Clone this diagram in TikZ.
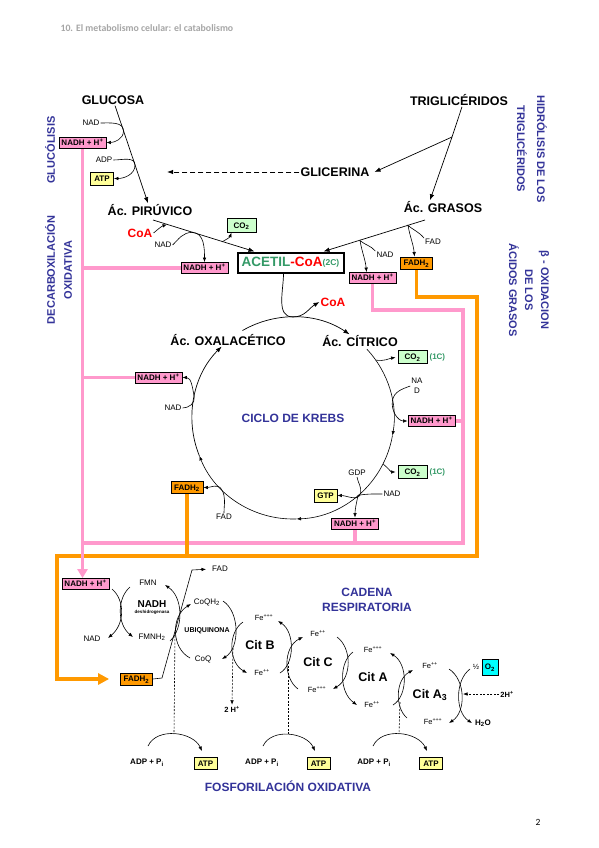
\documentclass[tikz,border=0pt]{standalone}
\usepackage{fontspec}
\setmainfont{Liberation Sans}
\newfontfamily\calibri{Carlito}
\usetikzlibrary{arrows.meta,positioning,calc,backgrounds}
\definecolor{rosa}{HTML}{FF99CC}
\definecolor{naranja}{HTML}{FF9900}
\definecolor{amarillo}{HTML}{FFFF99}
\definecolor{verdeclaro}{HTML}{CCFFCC}
\definecolor{verde}{HTML}{339966}
\definecolor{azul}{HTML}{333399}
\definecolor{celeste}{HTML}{00FFFF}
\definecolor{rojo}{HTML}{FF0000}
\definecolor{gris}{HTML}{A6A6A6}
\newcommand{\fsz}[1]{\fontsize{#1}{#1}\selectfont}

\begin{document}
\begin{tikzpicture}[
        x=1pt, y=1pt,
        metab/.style={font=\bfseries\fsz{12.5}, inner sep=1pt},
        lbl/.style={font=\fsz{8}, inner sep=1pt},
        fe/.style={font=\fsz{7.5}, inner sep=1pt},
        cit/.style={font=\bfseries\fsz{12.5}, inner sep=1pt},
        caja/.style={draw, line width=0.8pt, inner xsep=2pt, inner ysep=1.5pt,
                     minimum height=11pt, font=\bfseries\fsz{8},
                     text height=6pt, text depth=0.5pt},
        nadh/.style={caja, fill=rosa, minimum width=47pt},
        fadh/.style={caja, fill=naranja, minimum width=32pt, minimum height=12pt},
        atp/.style={caja, fill=amarillo, minimum width=23pt, minimum height=13pt},
        co2/.style={caja, fill=verdeclaro, minimum width=29pt, minimum height=13.5pt},
        unoc/.style={font=\bfseries\fsz{8}, text=verde, inner sep=1pt},
        titulo/.style={font=\bfseries\fsz{12}, text=azul, align=center},
        lado/.style={font=\bfseries\fsz{11}, text=azul, align=center},
        rx/.style={-{Latex[length=4.5pt,width=3.5pt]}, line width=0.6pt},
        flecha/.style={-{Latex[length=6pt,width=4.5pt]}, line width=0.7pt},
        rosaline/.style={rosa, line width=3.5pt},
        naranjaline/.style={naranja, line width=3.5pt},
        punteada/.style={dash pattern=on 2pt off 1.5pt, line width=0.6pt}
    ]
        \useasboundingbox (0,0) rectangle (599,-848);

        % header and page number
        \node[anchor=west, font=\calibri\bfseries\fsz{9.8}, text=gris] (encabezado) at (57,-28)
            {10. El metabolismo celular: el catabolismo};
        \node[font=\calibri\fsz{9.5}] (pagina) at (538,-822) {2};

        % starting compounds
        \node[metab] (glucosa) at (113,-100) {GLUCOSA};
        \node[metab] (triglic) at (459,-100) {TRIGLICÉRIDOS};
        \node[metab] (glicerina) at (335,-172) {GLICERINA};
        \node[metab] (piruvico) at (150,-210) {Ác. PIRÚVICO};
        \node[metab] (grasos) at (443,-207) {Ác. GRASOS};

        % side titles
        \node[lado, rotate=90] (glucolisis) at (50,-150) {GLUCÓLISIS};
        \node[lado, rotate=90, font=\bfseries\fontsize{11}{17}\selectfont] (decarbox) at (58.5,-270)
            {DECARBOXILACIÓN\\OXIDATIVA};
        \node[lado, rotate=-90, font=\bfseries\fontsize{11}{20}\selectfont] (hidrolisis) at (532,-149)
            {HIDRÓLISIS DE LOS\\TRIGLICÉRIDOS};
        \node[lado, rotate=-90, font=\bfseries\fontsize{11}{16}\selectfont] (betaox) at (529,-290)
            {β - OXIDACION\\DE LOS\\ÁCIDOS GRASOS};

        % glycolysis
        \node[lbl] (nadGl) at (91,-123) {NAD};
        \node[nadh] (nadhGl) at (82.5,-142.5) {NADH + H\textsuperscript{+}};
        \node[lbl] (adpGl) at (104,-160) {ADP};
        \node[atp] (atpGl) at (102,-178.5) {ATP};
        \draw[flecha] ([xshift=2pt]glucosa.south) -- ([xshift=-2pt]piruvico.north);
        \draw[rx] (nadGl.east) to[out=0,in=90] (123.5,-131) to[out=-90,in=0] (nadhGl.east);
        \draw[rx] (adpGl.east) to[out=0,in=90] (135,-165) to[out=-90,in=0] (atpGl.east);

        % triglycerides
        \coordinate (ramaTg) at (452,-137);
        \coordinate (gliDest) at (167,-172);
        \draw[line width=0.7pt] ([xshift=3pt]triglic.south) -- (ramaTg);
        \draw[flecha] (ramaTg) -- ([xshift=4pt]glicerina.east);
        \draw[flecha] (ramaTg) -- ([xshift=-13pt]grasos.north);
        \draw[flecha, line width=1pt, dash pattern=on 5pt off 3pt] (glicerina.west) -- (gliDest);

        % oxidative decarboxylation
        \node[metab, text=rojo, font=\bfseries\fsz{12}] (coaPi) at (140,-233) {CoA};
        \node[lbl] (nadPi) at (163,-245) {NAD};
        \node[nadh] (nadhPi) at (204.5,-268) {NADH + H\textsuperscript{+}};
        \node[co2] (co2Pi) at (241.5,-225.5) {CO\textsubscript{2}};
        \node[draw, line width=2pt, minimum width=106pt, minimum height=20pt, inner sep=1pt,
              font=\bfseries\fsz{13.5}] (acetil) at (290.5,-262.5)
            {\textcolor{verde}{ACETIL}\textcolor{rojo}{-CoA}\raisebox{1pt}{\textcolor{verde}{\fsz{8.5}(2C)}}};
        \coordinate (piA) at (153,-220);
        \draw[flecha] (piA) -- ([xshift=18pt]acetil.north west);
        \draw[rx] (coaPi.east) to[out=40,in=200] (167,-224.4);
        \draw[rx] (nadPi.east) to[out=45,in=180] (192,-232.4) to[out=0,in=90] (nadhPi.north);
        \draw[rx] (222,-241.9) to[out=30,in=-110] ([xshift=-10pt]co2Pi.south);

        % beta oxidation
        \node[lbl] (nadGr) at (385,-255) {NAD};
        \node[nadh] (nadhGr) at (372.5,-278) {NADH + H\textsuperscript{+}};
        \node[lbl] (fadGr) at (433,-242) {FAD};
        \node[fadh] (fadhGr) at (416.5,-263) {FADH\textsubscript{2}};
        \coordinate (grA) at (425,-220);
        \draw[flecha] (grA) -- ([xshift=-21pt]acetil.north east);
        \draw[rx] (nadGr.north west) to[out=130,in=-40] (360,-240.6) to[out=-80,in=95] ([xshift=-6pt]nadhGr.north);
        \draw[rx] (fadGr.north west) to[out=130,in=-40] (408,-225.4) to[out=-80,in=95] ([xshift=-2pt]fadhGr.north);

        % Krebs cycle
        \coordinate (krebs) at (293,-418);
        \node[titulo] (ciclo) at (krebs) {CICLO DE KREBS};
        \node[metab] (oxal) at (228,-340) {Ác. OXALACÉTICO};
        \node[metab] (citrico) at (360,-341) {Ác. CÍTRICO};
        \node[metab, text=rojo, font=\bfseries\fsz{12}] (coaK) at (333,-302) {CoA};
        \draw[flecha] ($(krebs)+(120:101)$) arc[start angle=120, end angle=56, radius=101];
        \draw[rx] ($(krebs)+(43:101)$) arc[start angle=43, end angle=-10, radius=101];
        \draw[rx] ($(krebs)+(-10:101)$) arc[start angle=-10, end angle=-88, radius=101];
        \draw[rx] ($(krebs)+(-88:101)$) arc[start angle=-88, end angle=-158, radius=101];
        \draw[flecha] ($(krebs)+(-158:101)$) arc[start angle=-158, end angle=-225, radius=101];
        \draw[flecha] ([xshift=-7pt]acetil.south) to[out=-90,in=180] ($(krebs)+(90:101)$) to[out=0,in=210] (coaK.west);

        % Krebs, right side
        \node[co2] (co2K1) at (412.5,-357) {CO\textsubscript{2}};
        \node[unoc, right=1pt of co2K1] (unoC1) {(1C)};
        \node[lbl, align=center, font=\fontsize{8}{10}\selectfont] (nadK2) at (417,-386) {NA\\D};
        \node[nadh] (nadhK2) at (431.5,-421) {NADH + H\textsuperscript{+}};
        \node[co2] (co2K2) at (412.5,-472) {CO\textsubscript{2}};
        \node[unoc, right=1pt of co2K2] (unoC2) {(1C)};
        \node[lbl] (gdpK) at (357,-473) {GDP};
        \node[atp] (gtpK) at (325.5,-495.5) {GTP};
        \node[lbl] (nadK3) at (392,-494) {NAD};
        \node[nadh] (nadhK3) at (355,-523.5) {NADH + H\textsuperscript{+}};
        \draw[rx, shorten >=2pt] ($(krebs)+(35:101)$) to[out=-10,in=190] (co2K1.west);
        \draw[rx] (nadK2.west) to[out=200,in=80] ($(krebs)+(10:101)$) to[out=-100,in=180] (nadhK2.west);
        \draw[rx, shorten >=2pt] ($(krebs)+(-27:101)$) to[out=-40,in=180] (co2K2.west);
        \draw[rx] (gdpK.south) to[out=-80,in=80] ($(krebs)+(-48:101)$) to[out=-100,in=0] (gtpK.east);
        \draw[rx] (nadK3.west) to[out=180,in=10] ($(krebs)+(-50:101)$) to[out=-100,in=90] (nadhK3.north);

        % Krebs, left side
        \node[nadh] (nadhK1) at (158.5,-377.5) {NADH + H\textsuperscript{+}};
        \node[lbl] (nadK1) at (173,-408) {NAD};
        \node[fadh] (fadhK) at (187,-487.5) {FADH\textsubscript{2}};
        \node[lbl] (fadK) at (224,-517) {FAD};
        \draw[rx] (nadK1.east) to[out=0,in=-80] ($(krebs)+(168:101)$) to[out=100,in=0] (nadhK1.east);
        \draw[rx] (fadK.north) to[out=90,in=-60] ($(krebs)+(-135:101)$) to[out=120,in=0] (fadhK.east);

        % respiratory chain
        \node[titulo, font=\bfseries\fontsize{12}{15}\selectfont] (cadena) at (367,-600) {CADENA\\RESPIRATORIA};
        \node[nadh] (nadhC) at (85.5,-584) {NADH + H\textsuperscript{+}};
        \node[fadh] (fadhC) at (136.5,-679) {FADH\textsubscript{2}};
        \node[lbl] (fmn) at (148,-583) {FMN};
        \node[font=\bfseries\fsz{10}, inner sep=0pt] (nadhDes) at (152,-604) {NADH};
        \node[font=\bfseries\fsz{4.5}, inner sep=0pt, below=2pt of nadhDes] (deshid) {deshidrogenasa};
        \node[lbl] (nadC) at (92,-639) {NAD};
        \node[lbl] (fmnh) at (152,-637) {FMNH\textsubscript{2}};
        \node[lbl] (coqh) at (207,-602) {CoQH\textsubscript{2}};
        \node[font=\bfseries\fsz{7}, inner sep=1pt] (ubiq) at (207,-631) {UBIQUINONA};
        \node[lbl] (coq) at (203,-659) {CoQ};
        \node[lbl] (fadC) at (220,-569) {FAD};
        \node[fe] (feB1) at (264,-618) {Fe\textsuperscript{+++}};
        \node[cit] (citB) at (260,-645) {Cit B};
        \node[fe] (feB2) at (262,-673) {Fe\textsuperscript{++}};
        \node[fe] (feC1) at (318,-634) {Fe\textsuperscript{++}};
        \node[cit] (citC) at (318,-662) {Cit C};
        \node[fe] (feC2) at (317,-690) {Fe\textsuperscript{+++}};
        \node[fe] (feA1) at (373,-650) {Fe\textsuperscript{+++}};
        \node[cit] (citA) at (373,-677) {Cit A};
        \node[fe] (feA2) at (372,-705) {Fe\textsuperscript{++}};
        \node[fe] (feA31) at (430,-666) {Fe\textsuperscript{++}};
        \node[cit] (citA3) at (430,-695) {Cit A\textsubscript{3}};
        \node[fe] (feA32) at (433,-722) {Fe\textsuperscript{+++}};
        \node[fe] (medio) at (476,-667) {½};
        \node[caja, fill=celeste, minimum width=16pt, minimum height=16pt, inner sep=1pt] (o2) at (490,-667) {O\textsubscript{2}};
        \node[lbl, font=\bfseries\fsz{8}] (h2o) at (483,-723) {H\textsubscript{2}O};
        \node[lbl, font=\bfseries\fsz{7.5}] (dosH) at (507,-694) {2H\textsuperscript{+}};
        \node[lbl, font=\bfseries\fsz{7.5}] (dosHb) at (232,-709) {2 H\textsuperscript{+}};

        % electron transfer couples
        \draw[rx] (130,-587) .. controls (117,-598) and (117,-624) .. (133,-637);
        \draw[rx] (112,-589) .. controls (125,-600) and (125,-624) .. (108,-638);
        \draw[rx] (170,-641) .. controls (184,-628) and (183,-597) .. (165,-585);
        \draw[rx] (190,-658) .. controls (171,-648) and (171,-616) .. (191,-604);
        \draw[rx] (223,-601) .. controls (240,-612) and (240,-648) .. (222,-659);
        \draw[rx] (243,-622) .. controls (228,-632) and (228,-662) .. (247,-673);
        \draw[rx] (280,-673) .. controls (295,-664) and (295,-632) .. (278,-621);
        \draw[rx] (298,-689) .. controls (283,-678) and (283,-647) .. (303,-637);
        \draw[rx] (337,-637) .. controls (352,-648) and (352,-678) .. (333,-689);
        \draw[rx] (353,-652) .. controls (339,-662) and (339,-692) .. (357,-705);
        \draw[rx] (393,-705) .. controls (408,-696) and (408,-664) .. (390,-653);
        \draw[rx] (407,-718) .. controls (395,-708) and (395,-680) .. (413,-670);
        \draw[rx] (449,-669) .. controls (466,-680) and (466,-712) .. (449,-723);
        \draw[rx] (470,-669) .. controls (455,-680) and (455,-712) .. (472,-723);
        \draw[rx, shorten >=5pt] (fadhC.east) -- (162,-678) -- (192,-570) -- (fadC.west);
        \draw[rx, punteada] (233,-648) -- (dosHb.north);
        \draw[rx, punteada] (dosH.west) -- (463,-694);

        % oxidative phosphorylation
        \node[font=\bfseries\fsz{12}, text=azul] (fosfo) at (288,-786) {FOSFORILACIÓN OXIDATIVA};
        \node[font=\bfseries\fsz{8}, inner sep=1pt] (adp1) at (147,-763) {ADP + P\textsubscript{i}};
        \node[atp, minimum height=12pt] (atp1) at (205.5,-763.5) {ATP};
        \node[font=\bfseries\fsz{8}, inner sep=1pt] (adp2) at (262,-763) {ADP + P\textsubscript{i}};
        \node[atp, minimum height=12pt] (atp2) at (318.5,-763.5) {ATP};
        \node[font=\bfseries\fsz{8}, inner sep=1pt] (adp3) at (374,-763) {ADP + P\textsubscript{i}};
        \node[atp, minimum height=12pt] (atp3) at (431,-763.5) {ATP};
        \draw[rx] (148,-746) to[out=65,in=115] (202,-751);
        \draw[rx] (263,-746) to[out=65,in=115] (315,-751);
        \draw[rx] (373,-746) to[out=65,in=115] (427,-751);
        \coordinate (tope1) at (174,-734);
        \coordinate (tope2) at (288.5,-734);
        \coordinate (tope3) at (399,-734);
        \draw[punteada] (175,-632) -- (tope1);
        \draw[punteada] (288.5,-662) -- (tope2);
        \draw[punteada] (400,-702) -- (tope3);

        % NADH and FADH2 transport lines
        \begin{scope}[on background layer]
            \fill[white] (0,0) rectangle (599,-848);
            \coordinate (rosaR) at (463,-310);
            \coordinate (rosaB) at (463,-543);
            \coordinate (naranjaR) at (477,-297);
            \coordinate (naranjaB) at (57,-556);
            \draw[rosaline] (nadhPi.west) -- (nadhPi.west -| nadhGl.south);
            \draw[rosaline] (nadhK1.west) -- (nadhK1.west -| nadhGl.south);
            \draw[rosaline] (nadhGr.south) |- (rosaR) -- (rosaB) -- (rosaB -| nadhGl.south);
            \draw[rosaline] (nadhK2.east) -- (nadhK2.east -| rosaR);
            \draw[rosaline] (nadhK3.south) -- (nadhK3.south |- rosaB);
            \draw[naranjaline] (fadhK.south) -- (fadhK.south |- naranjaB);
            \draw[naranjaline, -{Triangle[length=11pt,width=11pt]}, shorten >=11pt]
                (fadhGr.south) |- (naranjaR) |- (naranjaB) |- (fadhC.west);
            \draw[rosaline, -{Triangle[length=9pt,width=10pt]}] (nadhGl.south) -- (nadhGl.south |- nadhC.north);
        \end{scope}
    \end{tikzpicture}
\end{document}
